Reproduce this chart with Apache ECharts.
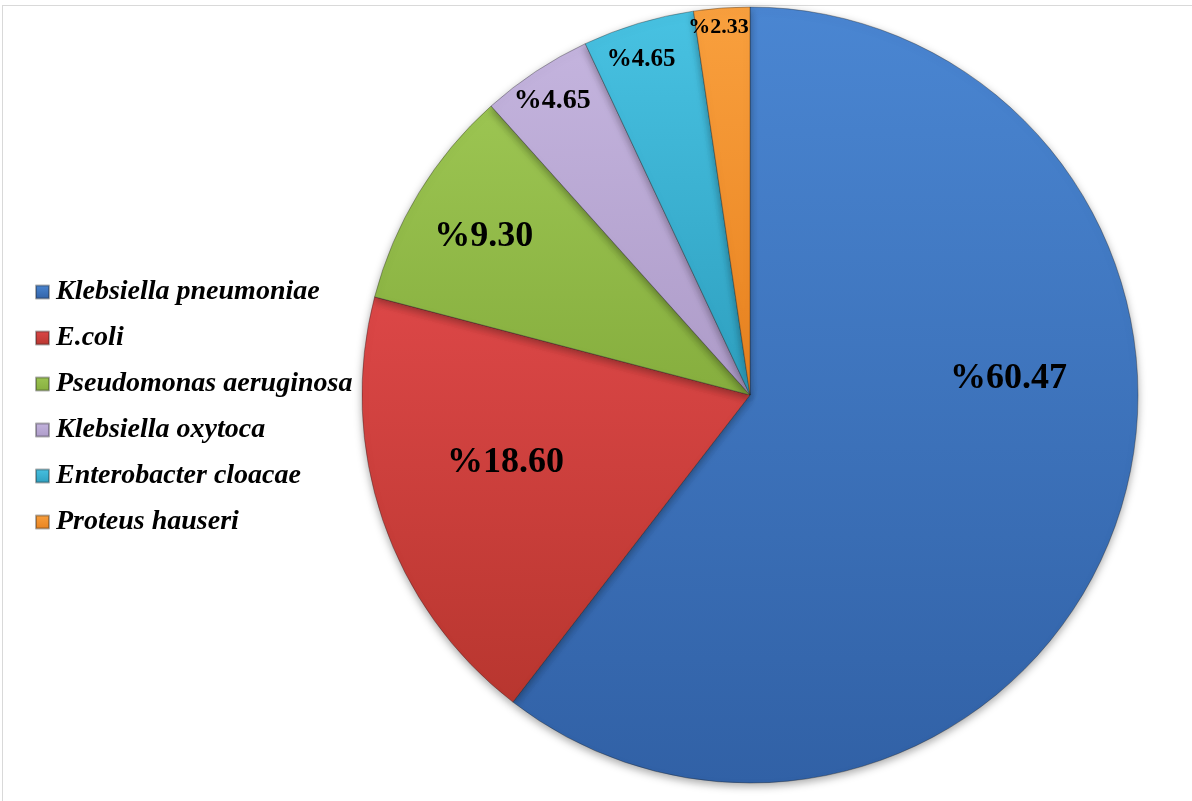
<!DOCTYPE html>
<html>
<head>
<meta charset="utf-8">
<script src="https://cdn.jsdelivr.net/npm/echarts@6/dist/echarts.min.js"></script>
<style>
  html, body { margin: 0; padding: 0; background: #fff; }
  #frame { position: absolute; left: 2px; top: 5px; width: 1190px; height: 796px; border-top: 1px solid #d9d9d9; border-left: 1px solid #d9d9d9; }
  #chart { position: absolute; left: 0; top: 0; width: 1192px; height: 801px; }
</style>
</head>
<body>
<div id="frame"></div>
<div id="chart"></div>
<script>
// ---- data ----
const categories = ['Klebsiella pneumoniae', 'E.coli', 'Pseudomonas aeruginosa', 'Klebsiella oxytoca', 'Enterobacter cloacae', 'Proteus hauseri'];
const counts = [26, 8, 4, 2, 2, 1];
const percentLabels = ['60.47', '18.60', '9.30', '4.65', '4.65', '2.33'];

// ---- styles ----
const topColors = ['#4A86D2', '#DC4747', '#9CC552', '#C4B4DE', '#48C2E2', '#F9A03E'];
const bottomColors = ['#3161A6', '#B8362F', '#86AE3E', '#AD9BC8', '#2E9FBF', '#E8821F'];
const labelSizes = [36, 36, 36, 28, 25, 22];
const labelShift = [[72, -80], [-58, 4], [-98, -56], [-89, -130], [-52, -147], [-17, -171]];

const data = categories.map((name, i) => ({
  name: name,
  value: counts[i],
  itemStyle: {
    color: {
      type: 'linear', x: 0, y: 0, x2: 0, y2: 1,
      colorStops: [{ offset: 0, color: topColors[i] }, { offset: 1, color: bottomColors[i] }]
    }
  },
  label: { fontSize: labelSizes[i] }
}));

const chart = echarts.init(document.getElementById('chart'), null, { renderer: 'canvas' });
chart.setOption({
  animation: false,
  backgroundColor: 'transparent',
  legend: {
    orient: 'vertical',
    left: 30,
    top: 272,
    itemWidth: 13,
    itemHeight: 13,
    itemGap: 16,
    icon: 'rect',
    data: categories,
    textStyle: {
      fontFamily: 'Liberation Serif',
      fontStyle: 'italic',
      fontWeight: 'bold',
      fontSize: 28,
      lineHeight: 30,
      color: '#000',
      padding: [0, 0, 0, 2]
    }
  },
  series: [{
    type: 'pie',
    center: [750, 395],
    radius: 388,
    startAngle: 90,
    clockwise: true,
    avoidLabelOverlap: false,
    data: data,
    itemStyle: {
      borderColor: 'rgba(30,30,30,0.35)',
      borderWidth: 1,
      shadowBlur: 8,
      shadowColor: 'rgba(0,0,0,0.35)',
      shadowOffsetY: 3
    },
    label: {
      show: true,
      position: 'inside',
      formatter: p => '%' + percentLabels[p.dataIndex],
      fontFamily: 'Liberation Serif',
      fontWeight: 'bold',
      color: '#000'
    },
    labelLine: { show: false },
    labelLayout: function (params) {
      const s = labelShift[params.dataIndex];
      return { dx: s[0], dy: s[1] };
    },
    emphasis: { disabled: true }
  }]
});
</script>
</body>
</html>
